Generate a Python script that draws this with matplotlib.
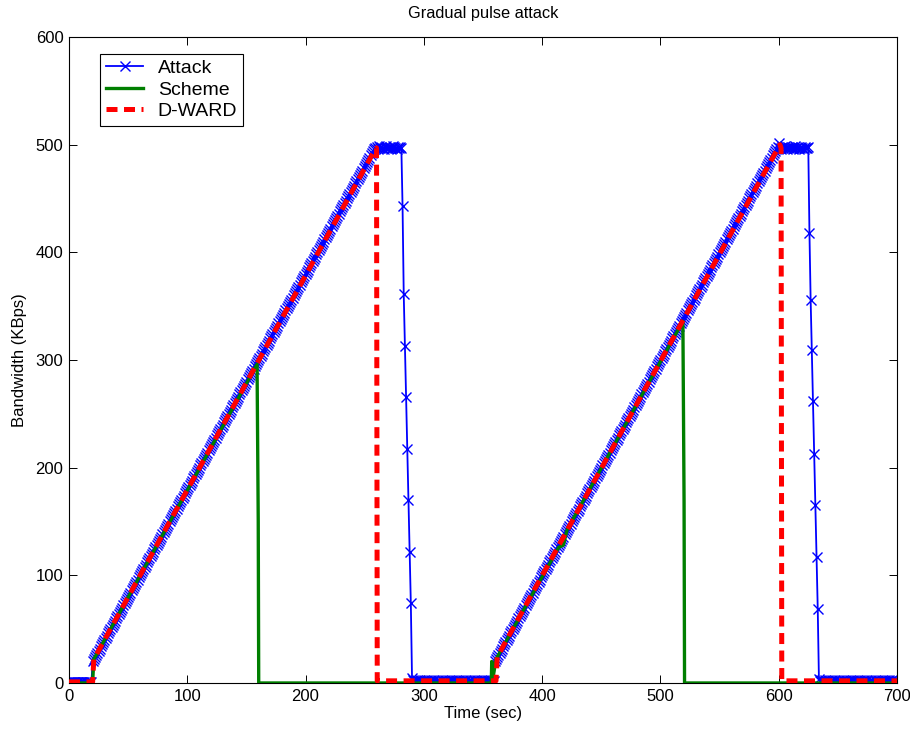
import numpy as np
import matplotlib
matplotlib.use("Agg")
import matplotlib.pyplot as plt

plt.rcParams['font.family'] = ['Liberation Sans', 'DejaVu Sans']

# ATTACK TRAFFIC, ONE SAMPLE PER SECOND (t = 0 ... 700) #
attack_idle_1 = [1, 1, 1, 1, 1, 1, 1, 1, 1, 1,
                 1, 1, 1, 1, 1, 1, 1, 1, 1, 1]
attack_ramp_1 = [20, 22, 24, 26, 28, 30, 32, 34, 36, 38,
                 40, 42, 44, 46, 48, 50, 52, 54, 56, 58,
                 60, 62, 64, 66, 68, 70, 72, 74, 76, 78,
                 80, 82, 84, 86, 88, 90, 92, 94, 96, 98,
                 100, 102, 104, 106, 108, 110, 112, 114, 116, 118,
                 120, 122, 124, 126, 128, 130, 132, 134, 136, 138,
                 140, 142, 144, 146, 148, 150, 152, 154, 156, 158,
                 160, 162, 164, 166, 168, 170, 172, 174, 176, 178,
                 180, 182, 184, 186, 188, 190, 192, 194, 196, 198,
                 200, 202, 204, 206, 208, 210, 212, 214, 216, 218,
                 220, 222, 224, 226, 228, 230, 232, 234, 236, 238,
                 240, 242, 244, 246, 248, 250, 252, 254, 256, 258,
                 260, 262, 264, 266, 268, 270, 272, 274, 276, 278,
                 280, 282, 284, 286, 288, 290, 292, 294, 296, 298,
                 300, 302, 304, 306, 308, 310, 312, 314, 316, 318,
                 320, 322, 324, 326, 328, 330, 332, 334, 336, 338,
                 340, 342, 344, 346, 348, 350, 352, 354, 356, 358,
                 360, 362, 364, 366, 368, 370, 372, 374, 376, 378,
                 380, 382, 384, 386, 388, 390, 392, 394, 396, 398,
                 400, 402, 404, 406, 408, 410, 412, 414, 416, 418,
                 420, 422, 424, 426, 428, 430, 432, 434, 436, 438,
                 440, 442, 444, 446, 448, 450, 452, 454, 456, 458,
                 460, 462, 464, 466, 468, 470, 472, 474, 476, 478,
                 480, 482, 484, 486, 488, 490, 492, 494, 496]
attack_top_1 = [497, 498, 496, 499, 497, 498, 497, 496, 498, 499,
                497, 497, 498, 496, 497, 499, 498, 497, 496, 498,
                497, 498, 497]
attack_drop_1 = [443, 361, 313, 266, 217, 170, 122, 74, 5]
attack_idle_2 = [3, 2, 2, 3, 2, 2, 3, 2, 2, 3,
                 2, 2, 3, 2, 2, 3, 2, 2, 3, 2,
                 2, 3, 2, 2, 3, 2, 2, 3, 2, 2,
                 3, 2, 2, 3, 2, 2, 3, 2, 2, 3,
                 2, 2, 3, 2, 2, 3, 2, 2, 3, 2,
                 2, 3, 2, 2, 3, 2, 2, 3, 2, 2,
                 3, 2, 2, 3, 2, 2, 3, 2, 2]
attack_ramp_2 = [20, 22, 24, 26, 28, 30, 32, 34, 36, 38,
                 40, 42, 44, 46, 48, 50, 52, 54, 56, 58,
                 60, 62, 64, 66, 68, 70, 72, 74, 76, 78,
                 80, 82, 84, 86, 88, 90, 92, 94, 96, 98,
                 100, 102, 104, 106, 108, 110, 112, 114, 116, 118,
                 120, 122, 124, 126, 128, 130, 132, 134, 136, 138,
                 140, 142, 144, 146, 148, 150, 152, 154, 156, 158,
                 160, 162, 164, 166, 168, 170, 172, 174, 176, 178,
                 180, 182, 184, 186, 188, 190, 192, 194, 196, 198,
                 200, 202, 204, 206, 208, 210, 212, 214, 216, 218,
                 220, 222, 224, 226, 228, 230, 232, 234, 236, 238,
                 240, 242, 244, 246, 248, 250, 252, 254, 256, 258,
                 260, 262, 264, 266, 268, 270, 272, 274, 276, 278,
                 280, 282, 284, 286, 288, 290, 292, 294, 296, 298,
                 300, 302, 304, 306, 308, 310, 312, 314, 316, 318,
                 320, 322, 324, 326, 328, 330, 332, 334, 336, 338,
                 340, 342, 344, 346, 348, 350, 352, 354, 356, 358,
                 360, 362, 364, 366, 368, 370, 372, 374, 376, 378,
                 380, 382, 384, 386, 388, 390, 392, 394, 396, 398,
                 400, 402, 404, 406, 408, 410, 412, 414, 416, 418,
                 420, 422, 424, 426, 428, 430, 432, 434, 436, 438,
                 440, 442, 444, 446, 448, 450, 452, 454, 456, 458,
                 460, 462, 464, 466, 468, 470, 472, 474, 476, 478,
                 480, 482, 484, 486, 488, 490, 492, 494, 496, 498,
                 502]
attack_top_2 = [497, 496, 498, 497, 499, 497, 496, 498, 497, 497,
                498, 496, 497, 499, 497, 498, 496, 497, 498, 497,
                496, 498, 497, 497, 498]
attack_drop_2 = [418, 356, 309, 262, 213, 165, 117, 69, 4]
attack_idle_3 = [2, 3, 2, 2, 3, 2, 2, 3, 2, 2,
                 3, 2, 2, 3, 2, 2, 3, 2, 2, 3,
                 2, 2, 3, 2, 2, 3, 2, 2, 3, 2,
                 2, 3, 2, 2, 3, 2, 2, 3, 2, 2,
                 3, 2, 2, 3, 2, 2, 3, 2, 2, 3,
                 2, 2, 3, 2, 2, 3, 2, 2, 3, 2,
                 2, 3, 2, 2, 3, 2]

attack = (attack_idle_1 + attack_ramp_1 + attack_top_1 + attack_drop_1 + attack_idle_2
          + attack_ramp_2 + attack_top_2 + attack_drop_2 + attack_idle_3)
attack_time = np.arange(len(attack))

# SCHEME (green) - vertices #
scheme_time = [0, 20, 21, 159, 160, 160.4, 357, 357.4, 357.8, 361, 414, 418, 421, 519, 520, 520.4, 700]
scheme_bw   = [0, 0, 22, 296, 150, 0, 0, 20, 0, 22, 126, 128, 142, 336, 168, 0, 0]

# D-WARD (red) - vertices #
dward_time = [0, 20, 21, 259, 260, 260.6, 361, 362, 601, 602, 602.6, 700]
dward_bw   = [1, 1, 22, 496, 497, 2, 2, 24, 500, 497, 2, 2]


# PLOT #
fig = plt.figure(figsize=(9.10, 7.37), dpi=100)
ax = fig.add_axes([0.0758, 0.0733, 0.9099, 0.8765])

ax.plot(attack_time, attack, color='#0000ff', linewidth=1.3, marker='x', markersize=7,
        markeredgewidth=1.0, label='Attack', zorder=2)
ax.plot(scheme_time, scheme_bw, color='#007f00', linewidth=2.4, label='Scheme', zorder=3)
ax.plot(dward_time, dward_bw, color='#ff0000', linewidth=3.6, linestyle=(0, (2.2, 1.3)),
        label='D-WARD', zorder=4)

ax.set_xlim(0, 700)
ax.set_ylim(0, 600)
ax.set_xticks(np.arange(0, 701, 100))
ax.set_yticks(np.arange(0, 601, 100))
ax.tick_params(direction='in', top=True, right=True, length=6, width=0.7, labelsize=12, pad=4)
for s in ax.spines.values():
    s.set_linewidth(0.8)

ax.set_title('Gradual pulse attack', fontsize=11.8, pad=14)
ax.set_xlabel('Time (sec)', fontsize=12, labelpad=2)
ax.set_ylabel('Bandwidth (KBps)', fontsize=12, labelpad=6)

leg = ax.legend(loc='upper left', bbox_to_anchor=(0.038, 0.974), borderaxespad=0, numpoints=1,
                fancybox=False, edgecolor='black', framealpha=1, fontsize=14, handlelength=1.9,
                borderpad=0.3, labelspacing=0.2, handletextpad=0.75)
leg.get_frame().set_linewidth(0.8)

fig.savefig('out.png', dpi=100)
